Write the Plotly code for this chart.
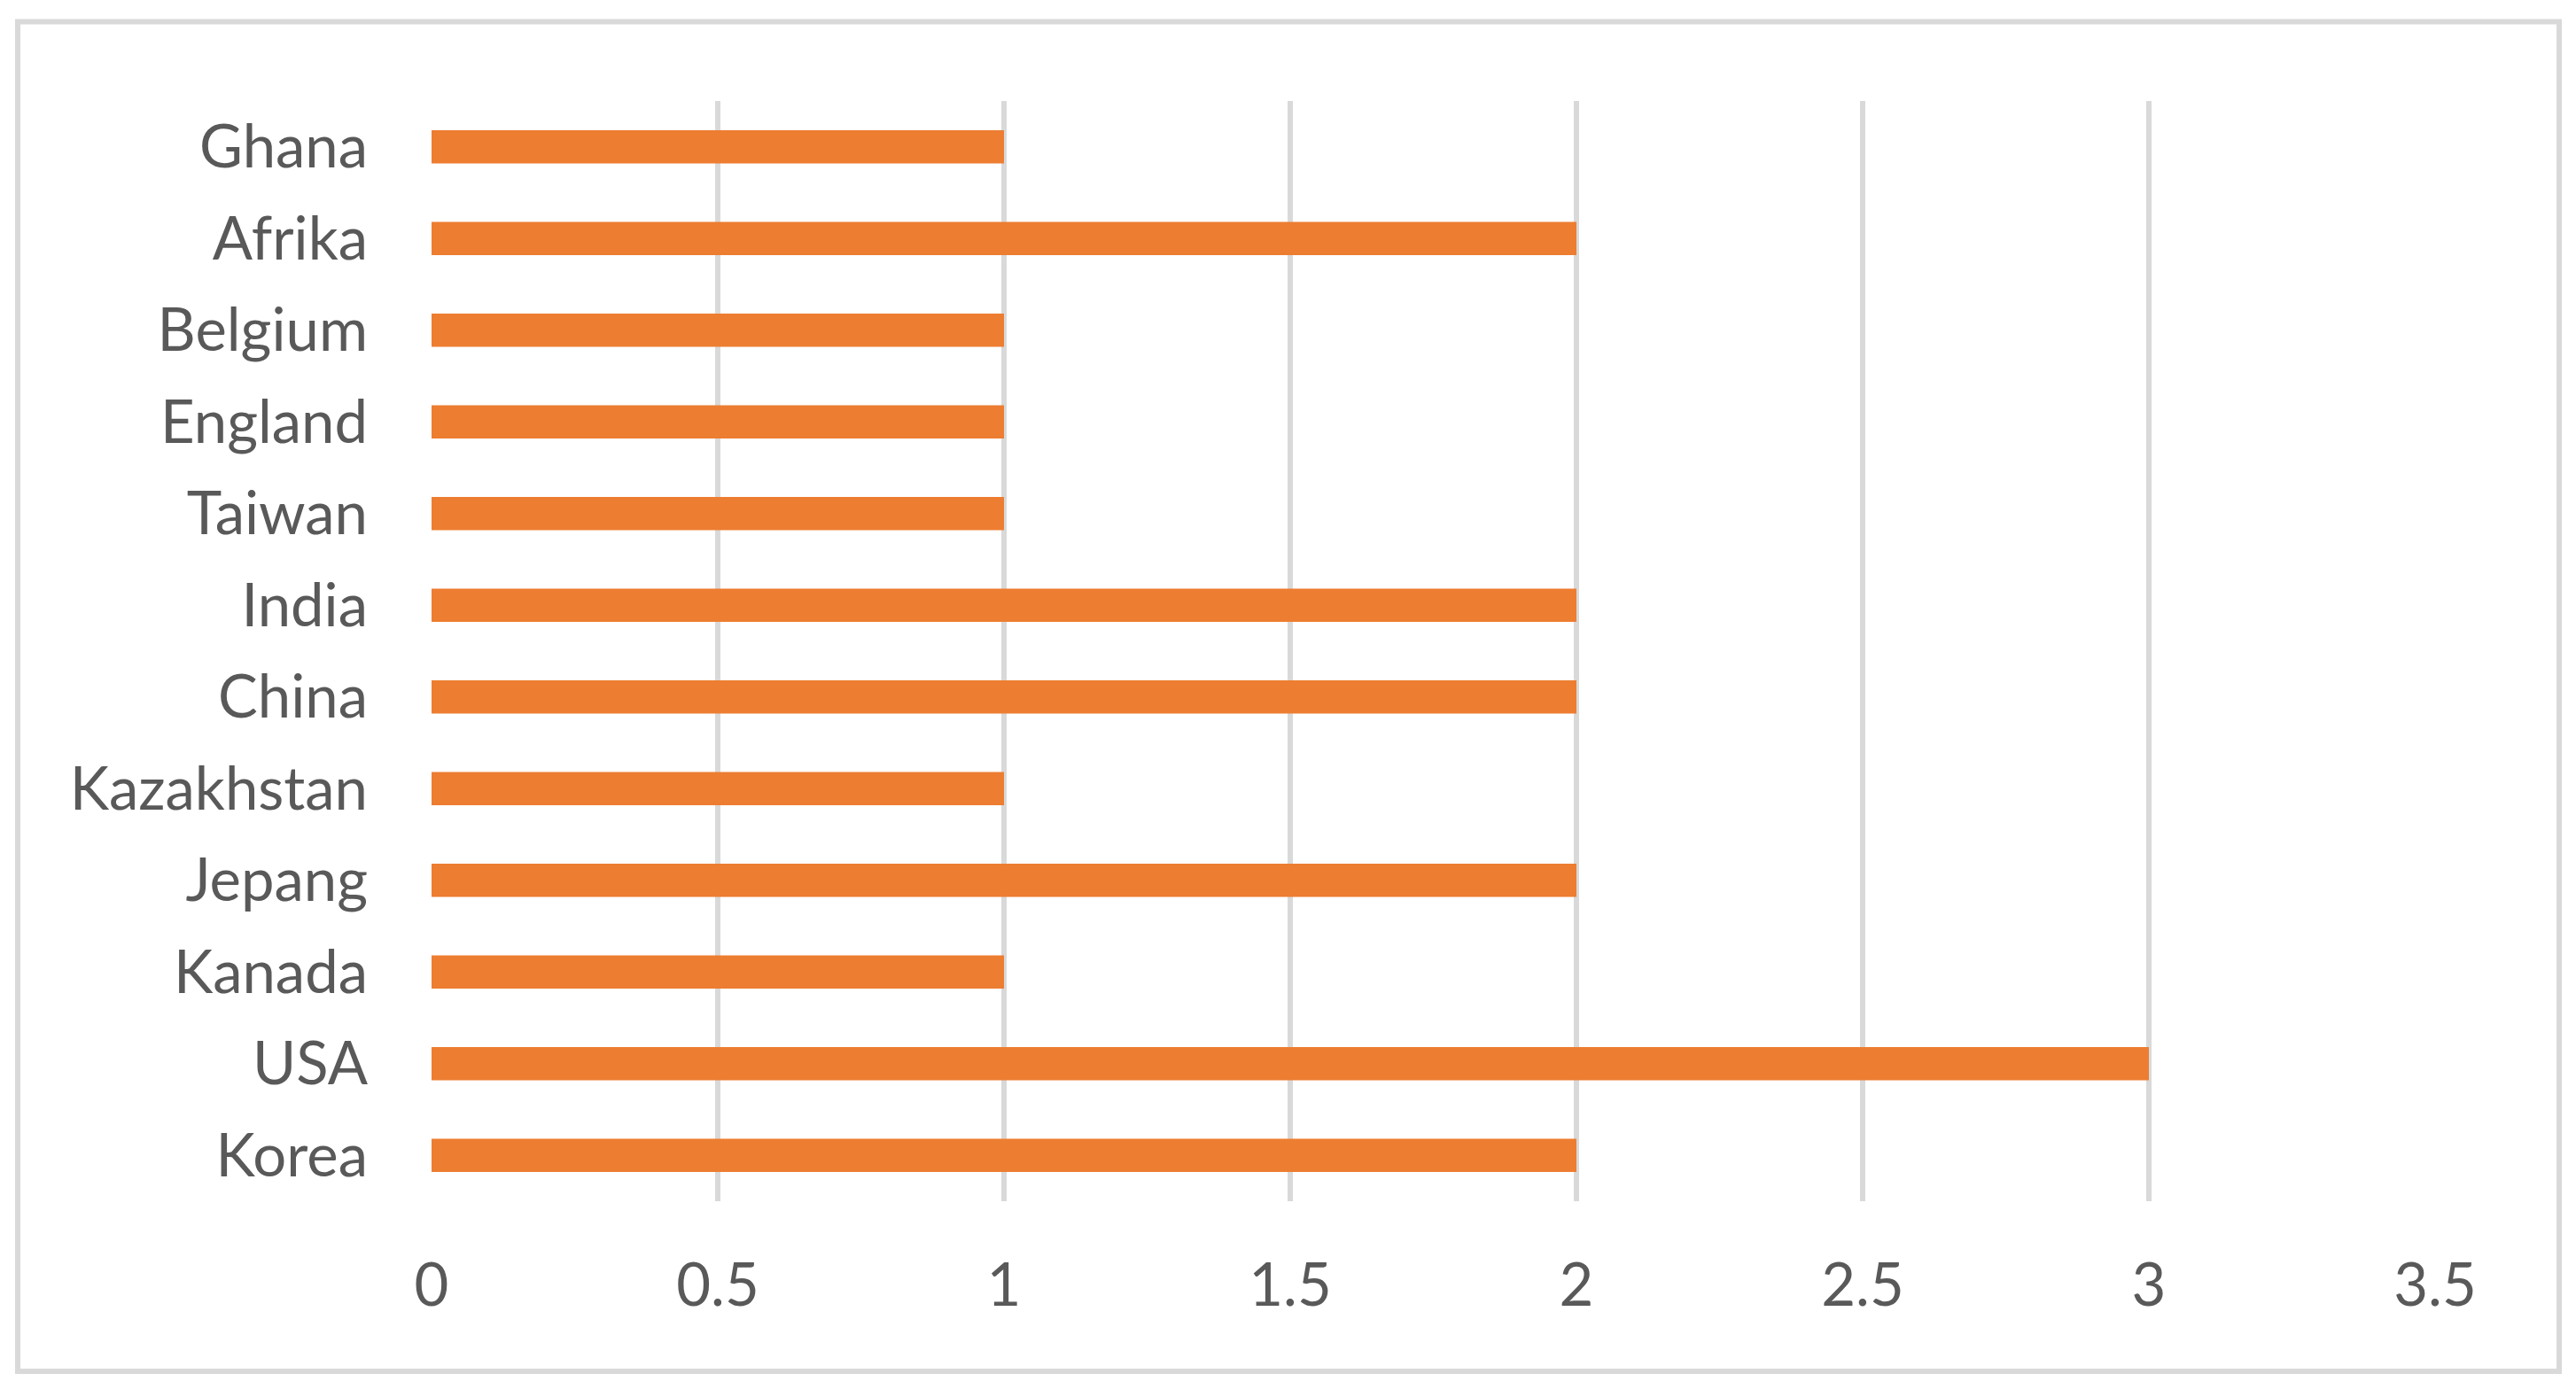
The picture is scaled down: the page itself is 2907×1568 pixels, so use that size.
import plotly.graph_objects as go

categories = ["Korea", "USA", "Kanada", "Jepang", "Kazakhstan", "China",
              "India", "Taiwan", "England", "Belgium", "Afrika", "Ghana"]
values = [2, 3, 1, 2, 1, 2, 2, 1, 1, 1, 2, 1]
x_ticks = [0, 0.5, 1, 1.5, 2, 2.5, 3, 3.5]

# page has an 8px body margin, so figure coords = page coords - 8
OFF = 8
W, H = 2907 - OFF, 1568 - OFF
L, R, T, B = 487 - OFF, 2748 - OFF, 114 - OFF, 1356 - OFF

fig = go.Figure(go.Bar(
    x=values, y=categories, orientation="h",
    marker=dict(color="#ED7D31", line=dict(width=0)),
    width=0.36,
))

pw, ph = R - L, B - T
bx0, bx1, by0, by1 = 20 - OFF, 2888 - OFF, 24.5 - OFF, 1548 - OFF
fig.add_shape(type="rect", xref="paper", yref="paper",
              x0=(bx0 - L) / pw, x1=(bx1 - L) / pw,
              y0=(B - by1) / ph, y1=(B - by0) / ph,
              line=dict(color="#D9D9D9", width=6), fillcolor="rgba(0,0,0,0)",
              layer="below")

fig.update_layout(
    width=W, height=H,
    margin=dict(l=L, r=W - R, t=T, b=H - B, pad=0),
    paper_bgcolor="white", plot_bgcolor="white",
    showlegend=False,
    font=dict(family="Lato", color="#595959", size=67),
)
fig.update_xaxes(range=[0, 3.5], tickvals=x_ticks,
                 ticktext=[f"{v:g}" for v in x_ticks],
                 showgrid=True, gridcolor="#D9D9D9", gridwidth=6,
                 zeroline=False, showline=False, ticks="",
                 ticklabelstandoff=50,
                 tickfont=dict(size=67, color="#595959", family="Lato"))
fig.update_yaxes(categoryorder="array", categoryarray=categories,
                 range=[-0.5, len(categories) - 0.5],
                 showgrid=False, zeroline=False, showline=False, ticks="",
                 ticklabelstandoff=71,
                 tickfont=dict(size=67, color="#595959", family="Lato"))

fig.write_html("out.html")
